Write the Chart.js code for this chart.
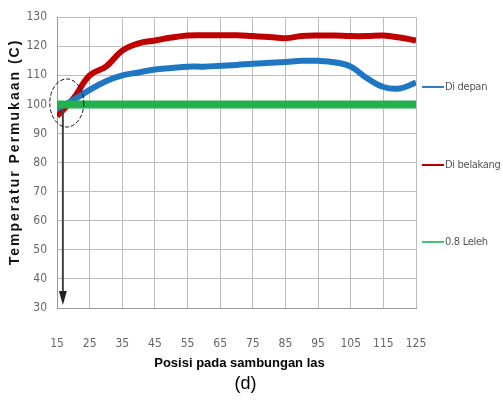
<!DOCTYPE html>
<html>
<head>
<meta charset="utf-8">
<script src="https://cdn.jsdelivr.net/npm/chart.js@4"></script>
<style>
  body { margin: 0; background: #fff; }
  #wrap { position: relative; width: 503px; height: 405px; }
  .leg { position: absolute; left: 422px; white-space: nowrap; font: 11px 'DejaVu Sans Condensed', 'Liberation Sans Narrow', 'Liberation Sans', sans-serif; color: #555; letter-spacing: -0.3px; }
  .leg span { display: inline-block; width: 22px; height: 2px; vertical-align: middle; margin-right: 1px; }
  .cap { position: absolute; width: 503px; text-align: center; font-family: 'Liberation Sans', Arial, sans-serif; color: #000; }
</style>
</head>
<body>
<div id="wrap">
  <canvas id="chart" width="503" height="405"></canvas>
  <div class="leg" style="top:80px"><span style="background:#2f7fc0"></span>Di depan</div>
  <div class="leg" style="top:158px"><span style="background:#c00000"></span>Di belakang</div>
  <div class="leg" style="top:235px"><span style="background:#4cc07a"></span>0.8 Leleh</div>
  <div class="cap" style="top:355px; left:-12px; font-size:13px; font-weight:bold">Posisi pada sambungan las</div>
  <div class="cap" style="top:373px; left:-6px; font-size:18px">(d)</div>
</div>
<script>
// posisi (mm)
const posisi = [15, 20, 25, 30, 35, 40, 45, 50, 55, 60, 65, 70, 75, 80, 85, 90, 95, 100, 105, 110, 115, 120, 125];
const diDepan = [98.5, 101.5, 105, 108, 110, 111, 112, 112.5, 113, 113, 113.3, 113.6, 114, 114.3, 114.6, 115, 115, 114.5, 113, 109, 106, 105.5, 107.5];
const diBelakang = [96, 102, 110, 113, 118.5, 121, 122, 123, 123.7, 123.8, 123.8, 123.8, 123.5, 123.2, 122.8, 123.5, 123.7, 123.7, 123.5, 123.5, 123.7, 123, 122];
const leleh = [100, 100, 100, 100, 100, 100, 100, 100, 100, 100, 100, 100, 100, 100, 100, 100, 100, 100, 100, 100, 100, 100, 100];
const xTicks = [15, 25, 35, 45, 55, 65, 75, 85, 95, 105, 115, 125];
const yTicks = [30, 40, 50, 60, 70, 80, 90, 100, 110, 120, 130];
const yTitle = 'Temperatur Permukaan (C)';

const toPts = arr => arr.map((v, i) => ({ x: posisi[i], y: v }));

// judul sumbu Y, lingkaran putus-putus dan panah di awal sambungan
const annot = {
    id: 'annot',
    afterDatasetsDraw(chart) {
        const ctx = chart.ctx;
        const xs = chart.scales.x, ys = chart.scales.y;
        const ax = xs.getPixelForValue(16.8);
        const ay0 = ys.getPixelForValue(98);
        const ay1 = ys.getPixelForValue(31);
        ctx.save();
        ctx.strokeStyle = '#444';
        ctx.fillStyle = '#222';
        ctx.lineWidth = 2;
        ctx.beginPath();
        ctx.moveTo(ax, ay0);
        ctx.lineTo(ax, ay1 - 12);
        ctx.stroke();
        ctx.beginPath();
        ctx.moveTo(ax - 4, ay1 - 14);
        ctx.lineTo(ax + 4, ay1 - 14);
        ctx.lineTo(ax, ay1);
        ctx.closePath();
        ctx.fill();

        ctx.strokeStyle = '#111';
        ctx.lineWidth = 1;
        ctx.setLineDash([4, 2]);
        ctx.beginPath();
        ctx.ellipse(xs.getPixelForValue(18), ys.getPixelForValue(100.5), 17, 24, 0, 0, Math.PI * 2);
        ctx.stroke();
        ctx.restore();

        ctx.save();
        ctx.translate(15, 152);
        ctx.rotate(-Math.PI / 2);
        ctx.font = "bold 14px 'Liberation Sans', Arial, sans-serif";
        ctx.letterSpacing = '2px';
        ctx.fillStyle = '#111';
        ctx.textAlign = 'center';
        ctx.textBaseline = 'middle';
        ctx.fillText(yTitle, 0, 0);
        ctx.restore();
    }
};

const tickFont = { family: "'DejaVu Sans Condensed', 'Liberation Sans Narrow', 'Liberation Sans', sans-serif", size: 12 };

new Chart(document.getElementById('chart'), {
    type: 'line',
    data: {
        datasets: [
            { label: '0.8 Leleh', data: toPts(leleh), borderColor: '#22b14c', borderWidth: 8, pointRadius: 0, tension: 0 },
            { label: 'Di depan', data: toPts(diDepan), borderColor: '#1f77c4', borderWidth: 6, pointRadius: 0, tension: 0.4 },
            { label: 'Di belakang', data: toPts(diBelakang), borderColor: '#c00000', borderWidth: 6, pointRadius: 0, tension: 0.4 }
        ]
    },
    options: {
        responsive: false,
        animation: false,
        layout: { padding: { left: 4, right: 87, top: 17, bottom: 0 } },
        plugins: { legend: { display: false }, tooltip: { enabled: false } },
        scales: {
            x: {
                type: 'linear',
                min: 15,
                max: 125,
                afterBuildTicks: s => { s.ticks = xTicks.map(v => ({ value: v })); },
                afterFit: s => { s.height = 97; },
                grid: { color: '#bdbdbd', drawTicks: false },
                border: { color: '#999' },
                ticks: { font: tickFont, color: '#666', padding: 29 }
            },
            y: {
                min: 30,
                max: 130,
                afterBuildTicks: s => { s.ticks = yTicks.map(v => ({ value: v })); },
                afterFit: s => { s.width = 53; },
                grid: { color: '#bdbdbd', drawTicks: false },
                border: { color: '#999' },
                ticks: { font: tickFont, color: '#666', padding: 10 }
            }
        }
    },
    plugins: [annot]
});
</script>
</body>
</html>
